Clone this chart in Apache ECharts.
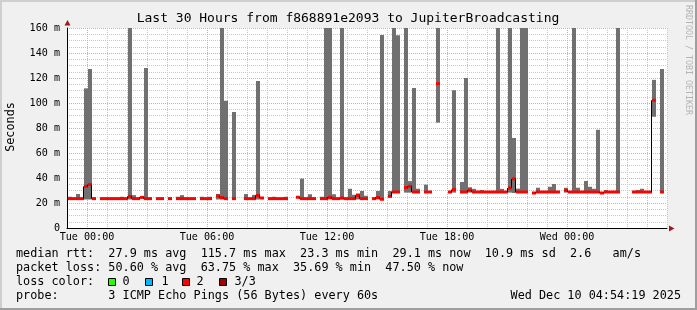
<!DOCTYPE html>
<html><head><meta charset="utf-8">
<script src="https://cdn.jsdelivr.net/npm/echarts@6/dist/echarts.min.js"></script>
<style>html,body{margin:0;padding:0;background:#f0f0f0}#c{width:697px;height:310px}</style>
</head><body><div id="c"></div>
<script>
// ---- data (hours relative to Tue 00:00, step = 12 min) ----
const STEP_START = -0.95;
const STEP = 0.2;
const medians = [
 23.5,23.5,23.5,23.5,33.3,34.7,23.5,null,23.5,23.5,
 23.5,23.5,23.5,23.5,23.5,25.3,23.5,23.5,24.5,23.5,
 23.5,null,23.5,23.5,null,23.5,null,23.5,23.5,23.5,
 23.5,23.5,null,23.5,23.5,23.5,null,25.6,24.3,23.5,
 null,23.5,null,null,23.5,23.5,23.5,26,24,null,
 23.5,23.5,23.5,23.5,23.5,null,null,24.6,23.5,23.5,
 23.5,23.5,null,23.5,23.5,24.5,23.5,23.5,24,23.5,
 23.5,23.5,26,23.5,23.5,null,23.5,24.4,23,null,
 25.3,28.8,28.8,null,32.3,33.3,28.8,28.8,null,28.8,
 28.8,null,115.5,null,null,28.8,30.7,null,28.8,28.8,
 30.3,28.8,28.8,28.8,28.8,28.8,28.8,28.8,28.8,28.8,
 32,39.3,28.8,28.8,28.8,null,28,28.8,28.8,28.8,
 28.8,28.8,28.8,null,30.2,28.8,28.8,28.8,28.8,28.8,
 28.8,28.8,28.8,28,28.8,28.8,28.8,28.8,null,null,
 null,28.8,28.8,28.8,28.8,28.8,102.2,null,28.8
];
const smokeIdx = [0,2,4,5,13,15,16,19,27,28, 33,35,37,38,39,41,44,46,47,51,
 54,58,60,63,64,65,66,68,70,71, 72,73,74,77,78,80,81,82,84,85,
 86,87,89,92,96,98,99,100,101,103, 107,108,110,111,112,113,114,117,120,121,
 124,126,127,129,130,131,132,134,137,142, 143,146,148];
const smokeHigh = [25,27.2,111.7,127.2,25,175,26.3,128,25,26.3,
 25,25,27.2,175,101.8,92.8,27.2,26.5,117.6,25,
 25,39.5,27,25,175,175,27,175,31.4,26.6,
 27.7,29.6,25.8,29.6,154.4,29.6,175,154.2,175,37.5,
 112,31.4,34.7,175,110.2,36.8,120,32.6,31.3,30.4,
 175,31.3,175,72,31.5,175,175,32.2,33,35.2,
 32.2,175,32.2,37.6,33,31.4,78.6,30.4,175,30.4,
 31.4,118.5,127.2];
const smokeLow = [22.8,22.8,22.8,22.8,22.8,22.8,22.8,22.8,22.8,22.8,
 22.8,22.8,22.8,22.8,22.8,22.8,22.8,22.8,22.8,22.8,
 22.8,22.8,22.8,22.8,22.8,22.8,22.8,22.8,22.8,22.8,
 22.8,22.8,22.8,22.8,22.8,25,28.3,28.3,28.3,28.3,
 28.3,28.3,28.3,84.3,28.3,28.3,28.3,28.3,28.3,28.3,
 28.3,28.3,28.3,28,28.3,28.3,28.3,28.3,28.3,28.3,
 28.3,28.3,28.3,28.3,28.3,28.3,28.3,28.3,28.3,28.3,
 28.3,89,28.3];
const xLabelHours = [0,6,12,18,24];
const xLabelTexts = ['Tue 00:00','Tue 06:00','Tue 12:00','Tue 18:00','Wed 00:00'];
const legendLines = [
 'median rtt:  27.9 ms avg  115.7 ms max  23.3 ms min  29.1 ms now  10.9 ms sd  2.6   am/s',
 'packet loss: 50.60 % avg  63.75 % max  35.69 % min  47.50 % now',
 'loss color:',
 'probe:       3 ICMP Echo Pings (56 Bytes) every 60s'
];
const lossLabels = ['0','1','2','3/3'];
const lossColors = ['#26ff00','#00b8ff','#ff0000','#a00000'];
const titleText = 'Last 30 Hours from f868891e2093 to JupiterBroadcasting';
const dateText = 'Wed Dec 10 04:54:19 2025';

// ---- build ----
const MONO = '"DejaVu Sans Mono", monospace';
const smokeData = smokeIdx.map((i, k) => [STEP_START + i * STEP, smokeLow[k], smokeHigh[k]]);
const medData = [];
medians.forEach((m, i) => { if (m !== null) medData.push([STEP_START + i * STEP, m, i]); });

function renderSmoke(params, api) {
  const t = api.value(0), lo = api.value(1), hi = api.value(2);
  const p0 = api.coord([t, lo]), p1 = api.coord([t + STEP, hi]);
  const cs = params.coordSys;
  const r = echarts.graphic.clipRectByRect(
    {x: p0[0], y: p1[1], width: p1[0] - p0[0], height: p0[1] - p1[1]},
    {x: cs.x, y: cs.y, width: cs.width, height: cs.height});
  if (!r) return null;
  return {type: 'rect', shape: r, style: {fill: '#707070'}};
}
function renderMedian(params, api) {
  const t = api.value(0), m = api.value(1), i = api.value(2);
  const a = api.coord([t, m]), b = api.coord([t + STEP, m]);
  const children = [];
  const pm = i > 0 ? medians[i - 1] : null;
  if (pm !== null && pm !== m) {
    const p = api.coord([t, pm]);
    const xx = Math.round(a[0]) - 0.5;
    children.push({type: 'line', shape: {x1: xx, y1: p[1], x2: xx, y2: a[1]}, style: {stroke: '#000', lineWidth: 1}});
  }
  children.push({type: 'line', shape: {x1: a[0], y1: a[1], x2: b[0], y2: a[1]}, style: {stroke: '#000', lineWidth: 1}});
  children.push({type: 'rect', shape: {x: a[0], y: a[1] - 1.5, width: b[0] - a[0], height: 3}, style: {fill: lossColors[2]}});
  return {type: 'group', children};
}

const GRAY = '#c8c8c8', PINK = '#f0a0a0';
const graphics = [
  {type: 'rect', shape: {x: 0, y: 0, width: 697, height: 2}, style: {fill: '#cfcfcf'}, silent: true},
  {type: 'rect', shape: {x: 0, y: 0, width: 2, height: 310}, style: {fill: '#cfcfcf'}, silent: true},
  {type: 'rect', shape: {x: 0, y: 308, width: 697, height: 2}, style: {fill: '#9e9e9e'}, silent: true},
  {type: 'rect', shape: {x: 695, y: 0, width: 2, height: 310}, style: {fill: '#9e9e9e'}, silent: true},
  {type: 'polygon', shape: {points: [[669, 225.5], [674.5, 228.5], [669, 231.5]]}, style: {fill: '#a01818'}, z: 10},
  {type: 'polygon', shape: {points: [[64.5, 25.5], [67.5, 20], [70.5, 25.5]]}, style: {fill: '#a01818'}, z: 10},
  {type: 'text', x: 348, y: 19, style: {text: titleText, font: '13px ' + MONO, fill: '#000', align: 'center', verticalAlign: 'middle', textAlign: 'center', textVerticalAlign: 'middle'}},
  {type: 'text', x: 11, y: 127, rotation: Math.PI / 2, style: {text: 'Seconds', font: '11.8px ' + MONO, fill: '#000', align: 'center', verticalAlign: 'middle', textAlign: 'center', textVerticalAlign: 'middle'}},
  {type: 'text', x: 688, y: 5, rotation: -Math.PI / 2, style: {text: 'RRDTOOL / TOBI OETIKER', font: '8.3px ' + MONO, fill: '#b4b4b4', align: 'left', verticalAlign: 'middle', textAlign: 'left', textVerticalAlign: 'middle'}},
  {type: 'text', x: 681, y: 296, style: {text: dateText, font: '11.8px ' + MONO, fill: '#000', align: 'right', verticalAlign: 'middle', textAlign: 'right', textVerticalAlign: 'middle'}}
];
const lineY = [254.3, 268.3, 282.3, 296];
legendLines.forEach((s, k) => graphics.push({type: 'text', x: 16, y: lineY[k], style: {text: s, font: '11.8px ' + MONO, fill: '#000', align: 'left', verticalAlign: 'middle', textAlign: 'left', textVerticalAlign: 'middle'}}));
const boxX = [108.5, 145.5, 182.5, 219.5], lblX = [122.5, 161.5, 196.5, 234.5];
lossLabels.forEach((s, k) => {
  graphics.push({type: 'rect', shape: {x: boxX[k], y: 278.5, width: 7, height: 7}, style: {fill: lossColors[k], stroke: '#000', lineWidth: 1}});
  graphics.push({type: 'text', x: lblX[k], y: 282.3, style: {text: s, font: '11.8px ' + MONO, fill: '#000', align: 'left', verticalAlign: 'middle', textAlign: 'left', textVerticalAlign: 'middle'}});
});

const chart = echarts.init(document.getElementById('c'), null, {renderer: 'canvas', width: 697, height: 310});
chart.setOption({
  animation: false,
  backgroundColor: '#f0f0f0',
  grid: {left: 67, right: 30, top: 28, bottom: 82, show: true, backgroundColor: '#ffffff', borderWidth: 0},
  xAxis: {
    type: 'value', min: -1, max: 29, interval: 1,
    axisLine: {show: true, onZero: false, lineStyle: {color: '#000', width: 1}},
    axisTick: {show: false},
    axisLabel: {
      formatter: v => { const k = xLabelHours.indexOf(Math.round(v)); return k >= 0 ? xLabelTexts[k] : ''; },
      fontFamily: MONO, fontSize: 10.1, color: '#000', margin: 4
    },
    splitLine: {show: true, lineStyle: {color: [GRAY, PINK, GRAY, GRAY, GRAY, GRAY], type: [1, 1], width: 1}}
  },
  yAxis: {
    type: 'value', min: 0, max: 160, interval: 5,
    axisLine: {show: true, onZero: false, lineStyle: {color: '#000', width: 1}},
    axisTick: {show: false},
    axisLabel: {
      formatter: v => (v % 20 === 0 ? (v === 0 ? '0' : v + ' m') : ''),
      fontFamily: MONO, fontSize: 10.1, color: '#000', margin: 7
    },
    splitLine: {show: true, lineStyle: {color: [PINK, GRAY, GRAY, GRAY], type: [1, 1], width: 1}}
  },
  series: [
    {type: 'custom', renderItem: renderSmoke, data: smokeData, encode: {x: 0, y: [1, 2]}, z: 2},
    {type: 'custom', renderItem: renderMedian, data: medData, encode: {x: 0, y: 1}, z: 3}
  ],
  graphic: graphics
});
</script></body></html>
